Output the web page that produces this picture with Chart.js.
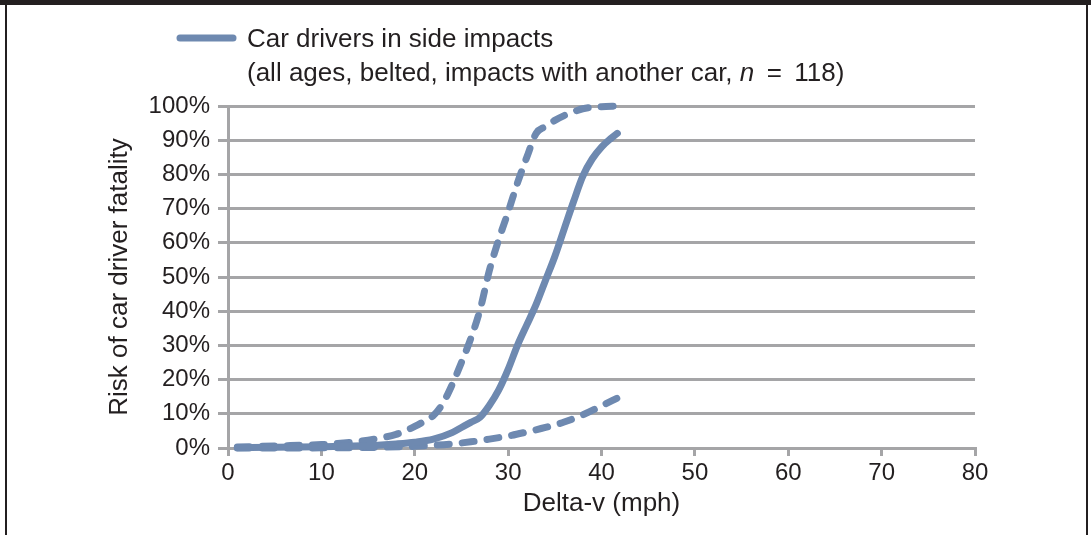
<!DOCTYPE html>
<html>
<head>
<meta charset="utf-8">
<script src="https://cdn.jsdelivr.net/npm/chart.js@4/dist/chart.umd.min.js"></script>
<style>
  body { margin: 0; background: #fff; }
  #wrap { position: relative; width: 1091px; height: 535px; overflow: hidden; }
  .edge { position: absolute; background: #231f20; }
</style>
</head>
<body>
<div id="wrap">
  <canvas id="riskChart" width="1091" height="535"></canvas>
  <div class="edge" style="left:0;top:0;width:1091px;height:5px"></div>
  <div class="edge" style="left:5px;top:0;width:2px;height:535px"></div>
  <div class="edge" style="left:1086px;top:0;width:2px;height:535px"></div>
</div>
<script>
// Delta-v (mph) and risk (%)
const solidX = [1, 5, 10, 15, 18, 20, 22, 24, 25, 26, 27, 28, 29, 30, 31, 32, 33, 34, 35, 36, 37, 38, 39, 40, 41, 41.7];
const solidY = [0.1, 0.2, 0.4, 0.7, 1.2, 1.7, 2.6, 4.5, 6, 7.5, 9, 12.5, 17, 23, 30, 36, 42, 49, 56, 64, 72, 79.5, 84.5, 88, 90.5, 92];

const upperX = [1, 5, 10, 13, 15, 17, 18, 19, 20, 21, 22, 23, 24, 25, 26, 27, 28, 29, 30, 31, 32, 33, 34, 35, 36, 37, 38, 40, 41.7];
const upperY = [0.3, 0.6, 1, 1.6, 2.3, 3.3, 4, 5, 6.3, 7.8, 9.5, 13, 18.5, 25, 32, 40.5, 52, 61, 69, 77.5, 85, 92, 94, 95.8, 97.2, 98.3, 99.2, 99.8, 100];

const lowerX = [1, 5, 10, 15, 20, 22, 24, 26, 28, 30, 32, 34, 36, 38, 40, 41.7];
const lowerY = [0, 0, 0.05, 0.15, 0.5, 0.8, 1.2, 1.8, 2.6, 3.5, 4.7, 6, 7.6, 9.7, 12.3, 14.6];

const legendLine1 = 'Car drivers in side impacts';
const legendLine2 = ['(all ages, belted, impacts with another car, ', 'n', ' \u2009=\u2009 118)'];

const lineColor = '#6e89b0';
const gridColor = '#a5a5a7';
const textColor = '#231f20';
const fontFamily = '"Liberation Sans", Arial, sans-serif';

function pts(xs, ys) {
    return xs.map((x, i) => ({ x: x, y: ys[i] }));
}

// legend drawn by hand so the "n" can be italic
const legendPlugin = {
    id: 'legendPlugin',
    afterDraw(chart) {
        const ctx = chart.ctx;
        ctx.save();
        ctx.strokeStyle = lineColor;
        ctx.lineWidth = 7;
        ctx.lineCap = 'round';
        ctx.beginPath();
        ctx.moveTo(180, 38);
        ctx.lineTo(233, 38);
        ctx.stroke();

        ctx.fillStyle = textColor;
        ctx.textBaseline = 'alphabetic';
        ctx.font = '26px ' + fontFamily;
        ctx.fillText(legendLine1, 247, 47);

        let x = 247;
        legendLine2.forEach((part, i) => {
            ctx.font = (i === 1 ? 'italic ' : '') + '26px ' + fontFamily;
            ctx.fillText(part, x, 81);
            x += ctx.measureText(part).width;
        });
        ctx.restore();
    }
};

const ctx = document.getElementById('riskChart').getContext('2d');
new Chart(ctx, {
    type: 'line',
    data: {
        datasets: [
            {
                label: 'Car drivers in side impacts',
                data: pts(solidX, solidY),
                borderColor: lineColor,
                borderWidth: 7,
                borderCapStyle: 'round',
                borderJoinStyle: 'round'
            },
            {
                label: 'Upper bound',
                data: pts(upperX, upperY),
                borderColor: lineColor,
                borderWidth: 7,
                borderDash: [12, 13],
                borderCapStyle: 'round',
                borderJoinStyle: 'round'
            },
            {
                label: 'Lower bound',
                data: pts(lowerX, lowerY),
                borderColor: lineColor,
                borderWidth: 7,
                borderDash: [12, 13],
                borderCapStyle: 'round',
                borderJoinStyle: 'round'
            }
        ]
    },
    options: {
        responsive: false,
        animation: false,
        clip: false,
        elements: {
            point: { radius: 0 },
            line: { cubicInterpolationMode: 'monotone', fill: false }
        },
        layout: {
            padding: { top: 106, left: 104, right: 116, bottom: 0 }
        },
        scales: {
            x: {
                type: 'linear',
                min: 0,
                max: 80,
                afterFit: s => { s.height = 87; },
                ticks: {
                    stepSize: 10,
                    color: textColor,
                    padding: 3,
                    font: { family: fontFamily, size: 24 }
                },
                grid: {
                    drawOnChartArea: false,
                    color: gridColor,
                    lineWidth: 3,
                    tickLength: 8
                },
                border: { color: gridColor, width: 3 },
                title: {
                    display: true,
                    text: 'Delta-v (mph)',
                    color: textColor,
                    padding: { top: 0, bottom: 16 },
                    font: { family: fontFamily, size: 26 }
                }
            },
            y: {
                min: 0,
                max: 100,
                afterFit: s => { s.width = 124; },
                ticks: {
                    stepSize: 10,
                    color: textColor,
                    padding: 8,
                    font: { family: fontFamily, size: 24 },
                    callback: v => v + '%'
                },
                grid: {
                    color: gridColor,
                    lineWidth: 3,
                    tickLength: 10
                },
                border: { color: gridColor, width: 3 },
                title: {
                    display: true,
                    text: 'Risk of car driver fatality',
                    color: textColor,
                    padding: { top: 0, bottom: 0 },
                    font: { family: fontFamily, size: 26 }
                }
            }
        },
        plugins: {
            legend: { display: false },
            tooltip: { enabled: false }
        }
    },
    plugins: [legendPlugin]
});
</script>
</body>
</html>
